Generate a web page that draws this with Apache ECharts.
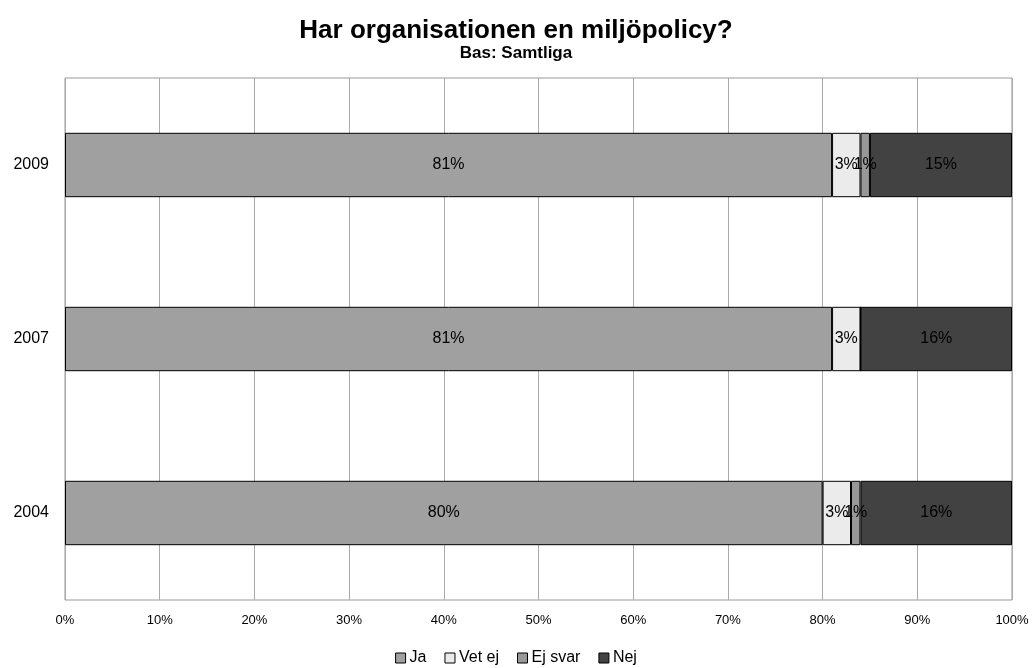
<!DOCTYPE html>
<html><head><meta charset="utf-8">
<script src="https://cdn.jsdelivr.net/npm/echarts@6/dist/echarts.min.js"></script>
<style>html,body{margin:0;padding:0;background:#fff}#c{width:1032px;height:668px}</style>
</head><body><div id="c"></div>
<script>
const years = ['2004', '2007', '2009'];
const ja = [80, 81, 81];
const vetEj = [3, 3, 3];
const ejSvar = [1, 0, 1];
const nej = [16, 16, 15];
const xTicks = [0, 10, 20, 30, 40, 50, 60, 70, 80, 90, 100];

const font = '"Liberation Sans", Arial, sans-serif';
function mk(name, data, color) {
  return {
    name, type: 'bar', stack: 'all', data, barWidth: '37%',
    itemStyle: { color, borderColor: '#000', borderWidth: 1 },
    label: {
      show: true, position: 'inside', color: '#000', fontFamily: font, fontSize: 16,
      formatter: p => p.value > 0 ? p.value + '%' : ''
    },
    labelLayout: { hideOverlap: false }
  };
}
const chart = echarts.init(document.getElementById('c'));
chart.setOption({
  animation: false,
  title: {
    text: 'Har organisationen en miljöpolicy?', subtext: 'Bas: Samtliga',
    left: 'center', top: 13, itemGap: 1,
    textStyle: { fontFamily: font, fontSize: 26, fontWeight: 'bold', color: '#000' },
    subtextStyle: { fontFamily: font, fontSize: 17, fontWeight: 'bold', color: '#000' }
  },
  legend: {
    bottom: -3, left: 'center', itemWidth: 10, itemHeight: 10, itemGap: 18,
    icon: 'rect',
    textStyle: { fontFamily: font, fontSize: 16, color: '#000', padding: [0, 0, 0, -1] },
    itemStyle: { borderColor: '#000', borderWidth: 1 }
  },
  grid: { left: 65, right: 20, top: 78, bottom: 68, show: true, borderColor: '#999', borderWidth: 1 },
  xAxis: {
    type: 'value', min: 0, max: 100, interval: 10,
    axisLabel: { formatter: v => xTicks.includes(v) ? v + '%' : '', fontFamily: font, fontSize: 13, color: '#000', margin: 14 },
    splitLine: { show: true, lineStyle: { color: '#aaa' } },
    axisLine: { show: false }, axisTick: { show: false }
  },
  yAxis: {
    type: 'category', data: years,
    axisLabel: { fontFamily: font, fontSize: 16, color: '#000', margin: 16 },
    axisLine: { show: false }, axisTick: { show: false }
  },
  series: [
    mk('Ja', ja, '#a0a0a0'),
    mk('Vet ej', vetEj, '#ebebeb'),
    mk('Ej svar', ejSvar, '#989898'),
    mk('Nej', nej, '#424242')
  ]
});
</script></body></html>
